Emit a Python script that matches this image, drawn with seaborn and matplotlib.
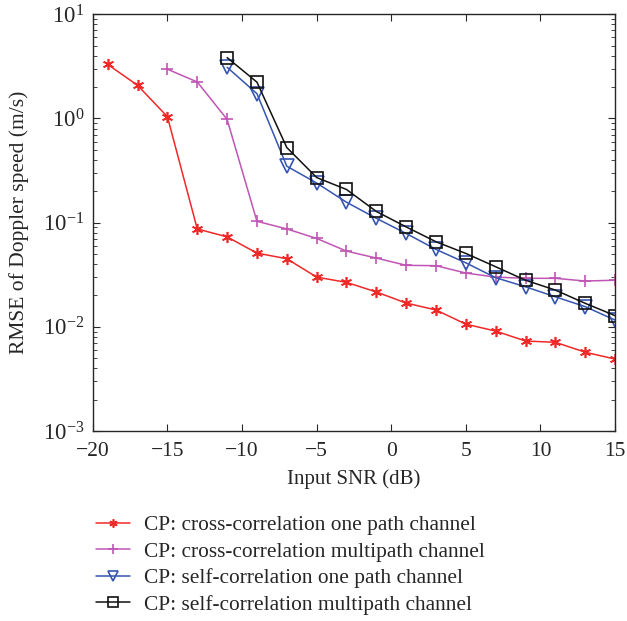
import numpy as np
import pandas as pd
import seaborn as sns
import matplotlib
matplotlib.use('Agg')
import matplotlib.pyplot as plt
from matplotlib.ticker import LogLocator, NullFormatter

# values
snr_cross_one = [-19, -17, -15, -13, -11, -9, -7, -5, -3, -1, 1, 3, 5, 7, 9, 11, 13, 15]
rmse_cross_one = [3.3, 2.08, 1.04, 0.087, 0.073, 0.051, 0.045, 0.030, 0.0267, 0.0216,
                  0.0169, 0.0145, 0.0106, 0.0091, 0.0073, 0.0071, 0.0057, 0.0049]

snr_cross_multi = [-15, -13, -11, -9, -7, -5, -3, -1, 1, 3, 5, 7, 9, 11, 13, 15]
rmse_cross_multi = [2.97, 2.24, 0.98, 0.103, 0.087, 0.0705, 0.0533, 0.0457, 0.0389,
                    0.0386, 0.0328, 0.030, 0.0292, 0.0292, 0.0275, 0.028]

snr_self_one = [-11, -9, -7, -5, -3, -1, 1, 3, 5, 7, 9, 11, 13, 15]
rmse_self_one = [3.1, 1.73, 0.348, 0.24, 0.157, 0.11, 0.0787, 0.0553, 0.0411, 0.0296,
                 0.0242, 0.0194, 0.0156, 0.0116]

snr_self_multi = [-11, -9, -7, -5, -3, -1, 1, 3, 5, 7, 9, 11, 13, 15]
rmse_self_multi = [3.84, 2.23, 0.526, 0.271, 0.208, 0.128, 0.091, 0.0655, 0.0506, 0.0377,
                   0.028, 0.0225, 0.0168, 0.0128]

labels = ["CP: cross-correlation one path channel",
          "CP: cross-correlation multipath channel",
          "CP: self-correlation one path channel",
          "CP: self-correlation multipath channel"]

sns.set_style("ticks")
plt.rcParams['font.family'] = ['Liberation Serif', 'DejaVu Serif']
plt.rcParams['mathtext.fontset'] = 'stix'
plt.rcParams['font.size'] = 14

fig = plt.figure(figsize=(6.27, 6.21), dpi=100)
ax = fig.add_axes([0.148, 0.306, 0.833, 0.671])

series = [
    (snr_cross_one, rmse_cross_one, '#f02828', (6, 2, 0), 8, 'full'),
    (snr_cross_multi, rmse_cross_multi, '#c055b5', '+', 9, 'full'),
    (snr_self_one, rmse_self_one, '#3555b0', 'v', 10, 'none'),
    (snr_self_multi, rmse_self_multi, '#111111', 's', 9, 'none'),
]

for (x, y, c, m, ms, fs), lab in zip(series, labels):
    df = pd.DataFrame({'snr': x, 'rmse': y})
    sns.lineplot(data=df, x='snr', y='rmse', ax=ax, color=c, marker=m, markersize=ms,
                 fillstyle=fs, markeredgecolor=c, markeredgewidth=1.2, linewidth=1.1,
                 label=lab)

ax.set_yscale('log')
ax.set_xlim(-20, 15)
ax.set_ylim(1e-3, 1e1)
ax.yaxis.set_major_locator(LogLocator(base=10, numticks=10))
ax.yaxis.set_minor_locator(LogLocator(base=10, subs=np.arange(2, 10), numticks=10))
ax.yaxis.set_minor_formatter(NullFormatter())
ax.set_xticks(range(-20, 16, 5))
ax.set_xticklabels(['\u221220', '\u221215', '\u221210', '\u22125', '0', '5', '10', '15'])
ax.tick_params(which='both', direction='in', top=True, right=True, labelsize=15.5)
ax.tick_params(axis='x', which='major', pad=8)
ax.tick_params(axis='y', which='major', pad=6, labelsize=16.5)
ax.tick_params(which='major', length=5)
ax.tick_params(which='minor', length=3)
for sp in ax.spines.values():
    sp.set_linewidth(1.0)

ax.set_xlabel("Input SNR (dB)", fontsize=15, labelpad=6)
ax.set_ylabel("RMSE of Doppler speed (m/s)", fontsize=15.5, labelpad=10)

ax.get_legend().remove()
h, l = ax.get_legend_handles_labels()
fig.legend(h, l, loc='upper left', bbox_to_anchor=(0.153, 0.170), frameon=False,
           fontsize=15.4, handlelength=1.6, handletextpad=0.65, labelspacing=0.3,
           markerscale=0.75, borderpad=0, borderaxespad=0)

fig.savefig('out.png', dpi=100)
